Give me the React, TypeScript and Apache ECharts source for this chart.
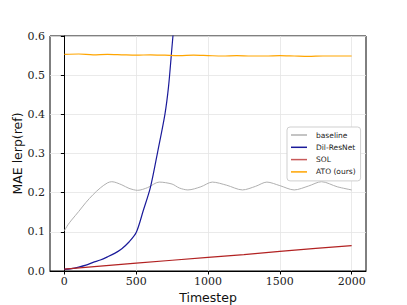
import React, { useEffect, useRef } from "react";
import * as echarts from "echarts";

const xTicks = [0, 500, 1000, 1500, 2000];

const baselineT = [0, 25, 50, 100, 150, 200, 250, 300, 330, 400, 450, 510, 580, 660, 750, 800, 860, 950, 1030, 1130, 1240, 1330, 1410, 1500, 1600, 1700, 1790, 1900, 2000];
const baselineV = [0.103, 0.118, 0.13, 0.152, 0.175, 0.195, 0.212, 0.225, 0.228, 0.22, 0.211, 0.206, 0.213, 0.227, 0.222, 0.212, 0.207, 0.215, 0.227, 0.219, 0.207, 0.216, 0.227, 0.218, 0.207, 0.217, 0.228, 0.215, 0.207];

const dilT = [0, 50, 100, 150, 200, 250, 300, 350, 400, 450, 500, 550, 600, 650, 700, 725, 750, 775];
const dilV = [0.004, 0.006, 0.01, 0.015, 0.022, 0.028, 0.036, 0.045, 0.057, 0.074, 0.098, 0.155, 0.215, 0.305, 0.4, 0.47, 0.575, 0.68];

const solT = [0, 250, 500, 750, 1000, 1250, 1500, 1750, 2000];
const solV = [0.005, 0.0125, 0.02, 0.0275, 0.035, 0.042, 0.05, 0.058, 0.065];

const atoT = [0, 100, 200, 300, 400, 500, 600, 700, 800, 900, 1000, 1100, 1200, 1300, 1400, 1500, 1600, 1700, 1800, 1900, 2000];
const atoV = [0.553, 0.554, 0.552, 0.553, 0.552, 0.551, 0.552, 0.551, 0.55, 0.551, 0.55, 0.549, 0.55, 0.549, 0.549, 0.55, 0.549, 0.548, 0.549, 0.549, 0.549];

const zip = (t: number[], v: number[]) => t.map((x, i) => [x, v[i]]);

export default function App() {
  const ref = useRef<HTMLDivElement>(null);
  useEffect(() => {
    const chart = echarts.init(ref.current!, null, { renderer: "svg" });
    const tickFont = { fontFamily: "DejaVu Serif", fontSize: 11, color: "#222" };
    chart.setOption({
      animation: false,
      backgroundColor: "#fff",
      grid: { left: 50, top: 36, right: 41, bottom: 34, show: true, borderColor: "#000", borderWidth: 1, containLabel: false, outerBoundsMode: "none" },
      legend: {
        orient: "vertical",
        left: 287,
        top: 127,
        padding: [3, 5, 4, 4],
        itemGap: 2.3,
        itemWidth: 16,
        itemHeight: 1.5,
        icon: "rect",
        backgroundColor: "#fff",
        borderColor: "#cfcfcf",
        borderWidth: 1,
        borderRadius: 3,
        textStyle: { fontFamily: "DejaVu Sans", fontSize: 7.5, lineHeight: 10, color: "#222", padding: [0, 0, 0, 4] },
        data: ["baseline", "Dil-ResNet", "SOL", "ATO (ours)"],
      },
      xAxis: {
        type: "value",
        min: -100,
        max: 2100,
        name: "Timestep",
        nameLocation: "middle",
        nameGap: 20,
        nameMoveOverlap: false,
        nameTextStyle: { fontFamily: "DejaVu Sans", fontSize: 12.5, color: "#111" },
        axisLine: { onZero: false, lineStyle: { color: "#000", width: 1 } },
        axisTick: { show: true, customValues: xTicks, length: 3.5, lineStyle: { color: "#000" } },
        axisLabel: { customValues: xTicks, ...tickFont, margin: 5, formatter: (v: number) => String(v) },
        splitLine: { show: true, customValues: xTicks, lineStyle: { color: "#e4e4e4", width: 0.8 } },
      },
      yAxis: {
        type: "value",
        min: 0,
        max: 0.6,
        interval: 0.1,
        name: "MAE lerp(ref)",
        nameLocation: "middle",
        nameGap: 26,
        nameMoveOverlap: false,
        nameTextStyle: { fontFamily: "DejaVu Sans", fontSize: 12.5, color: "#111" },
        axisLine: { show: true, lineStyle: { color: "#000", width: 1 } },
        axisTick: { show: true, length: 3.5, lineStyle: { color: "#000" } },
        axisLabel: { ...tickFont, margin: 5, formatter: (v: number) => v.toFixed(1) },
        splitLine: { show: true, lineStyle: { color: "#e4e4e4", width: 0.8 } },
      },
      series: [
        { name: "baseline", type: "line", data: zip(baselineT, baselineV), smooth: 0.3, showSymbol: false, lineStyle: { color: "#b0b0b0", width: 1 }, itemStyle: { color: "#b0b0b0" } },
        { name: "Dil-ResNet", type: "line", data: zip(dilT, dilV), smooth: 0.3, showSymbol: false, clip: true, lineStyle: { color: "#1a1a9a", width: 1.2 }, itemStyle: { color: "#1a1a9a" } },
        { name: "SOL", type: "line", data: zip(solT, solV), showSymbol: false, lineStyle: { color: "#b22222", width: 1.2 }, itemStyle: { color: "#c85a5a" } },
        { name: "ATO (ours)", type: "line", data: zip(atoT, atoV), smooth: 0.3, showSymbol: false, lineStyle: { color: "#ffa500", width: 1.2 }, itemStyle: { color: "#ffa500" } },
      ],
    });
    return () => chart.dispose();
  }, []);
  return <div ref={ref} style={{ position: "absolute", left: 0, top: 0, width: 407, height: 305 }} />;
}
